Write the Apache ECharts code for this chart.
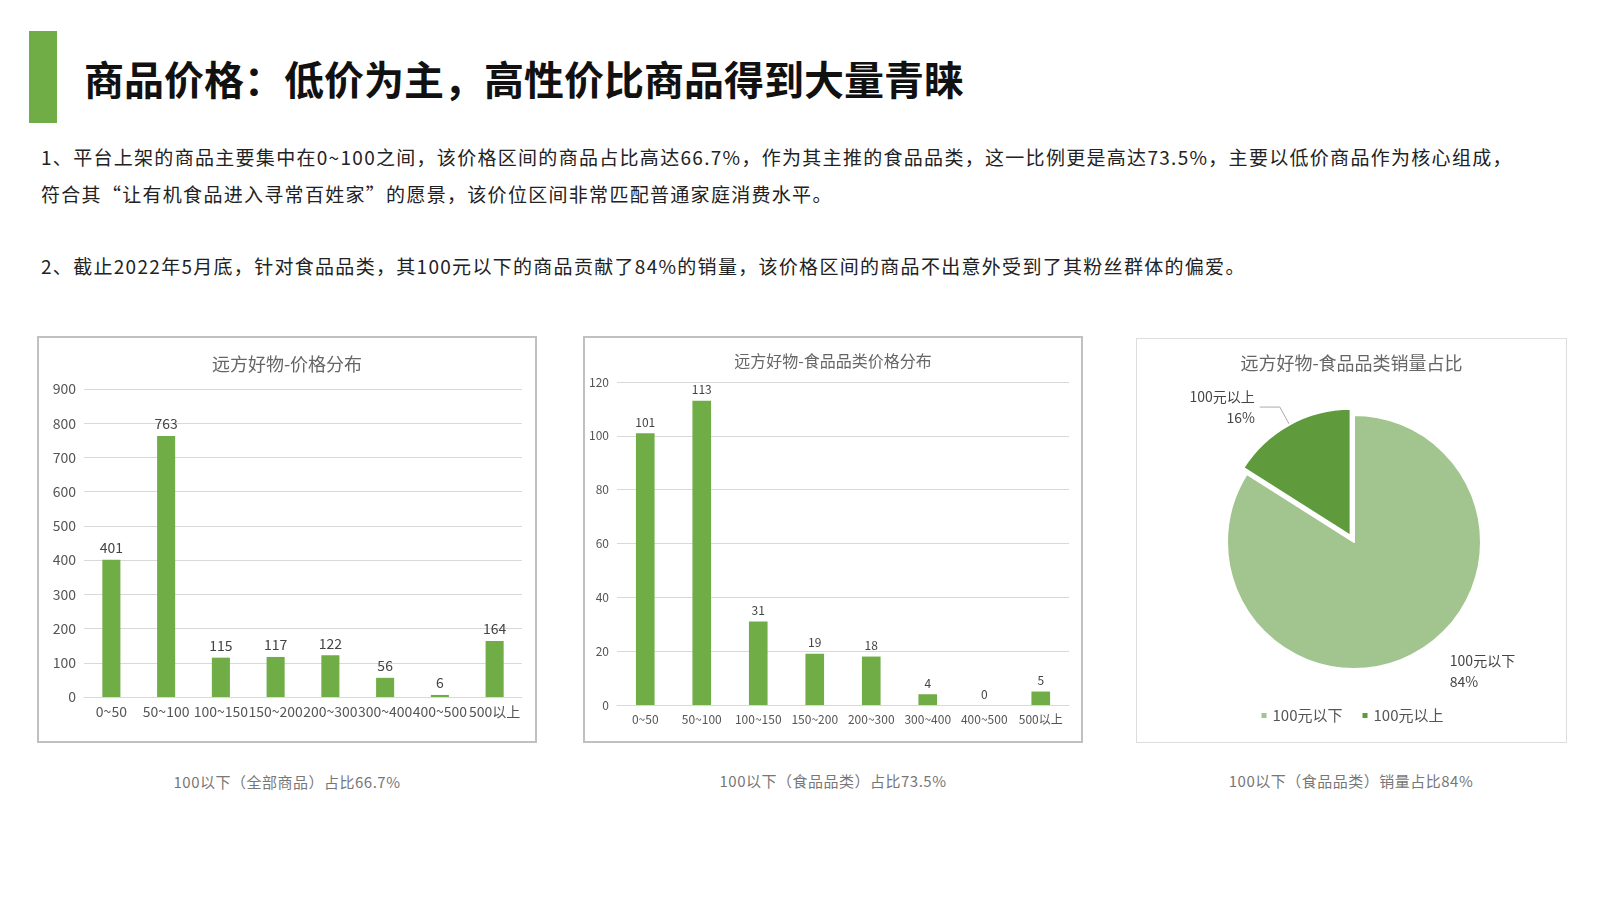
<!DOCTYPE html>
<html>
<head>
<meta charset="utf-8">
<title>商品价格</title>
<script src="https://cdn.jsdelivr.net/npm/echarts@6/dist/echarts.min.js"></script>
<style>
  body { margin:0; width:1600px; height:900px; background:#fff; font-family:"Noto Sans CJK SC","Noto Sans",sans-serif; position:relative; overflow:hidden; }
  .bar { position:absolute; left:29px; top:31px; width:28px; height:92px; background:#70ad47; }
  .title { position:absolute; left:84px; top:52px; font-size:40px; font-weight:bold; color:#111; line-height:52px; }
  .p { position:absolute; left:41px; font-size:19px; letter-spacing:1.3px; color:#222; white-space:nowrap; }
  .box { position:absolute; border:2px solid #c0c0c0; box-sizing:border-box; }
  .cap { position:absolute; font-size:15px; letter-spacing:0.5px; color:#777; text-align:center; width:500px; }
</style>
</head>
<body>
<div class="bar"></div>
<div class="title">商品价格：低价为主，高性价比商品得到大量青睐</div>
<div class="p" style="top:143px">1、平台上架的商品主要集中在0~100之间，该价格区间的商品占比高达66.7%，作为其主推的食品品类，这一比例更是高达73.5%，主要以低价商品作为核心组成，</div>
<div class="p" style="top:180px">符合其“让有机食品进入寻常百姓家”的愿景，该价位区间非常匹配普通家庭消费水平。</div>
<div class="p" style="top:252px">2、截止2022年5月底，针对食品品类，其100元以下的商品贡献了84%的销量，该价格区间的商品不出意外受到了其粉丝群体的偏爱。</div>

<div id="c1" class="box" style="left:37px;top:336px;width:500px;height:407px"></div>
<div id="c2" class="box" style="left:583px;top:336px;width:500px;height:407px"></div>
<div id="c3" class="box" style="left:1136px;top:338px;width:431px;height:405px;border:1px solid #ddd"></div>

<div class="cap" style="left:37px;top:771px">100以下（全部商品）占比66.7%</div>
<div class="cap" style="left:583px;top:770px">100以下（食品品类）占比73.5%</div>
<div class="cap" style="left:1101px;top:770px">100以下（食品品类）销量占比84%</div>

<script>
var allCats = ['0~50','50~100','100~150','150~200','200~300','300~400','400~500','500以上'];
var allVals = [401, 763, 115, 117, 122, 56, 6, 164];
var foodCats = ['0~50','50~100','100~150','150~200','200~300','300~400','400~500','500以上'];
var foodVals = [101, 113, 31, 19, 18, 4, 0, 5];
var pieNames = ['100元以下','100元以上'];
var pieVals = [84, 16];

var green = '#70ad47';
var font = '"Noto Sans CJK SC", sans-serif';

function barOpt(title, cats, vals, max, interval, grid, fs, titleTop) {
  return {
    animation:false,
    title:{ text:title, left:'center', top:titleTop, textStyle:{ color:'#666', fontSize:fs+4, fontWeight:'normal', fontFamily:font } },
    grid:grid,
    xAxis:{ type:'category', data:cats, axisTick:{show:false}, axisLine:{lineStyle:{color:'#d9d9d9'}},
      axisLabel:{ color:'#555', fontSize:fs, interval:0, fontFamily:font } },
    yAxis:{ type:'value', min:0, max:max, interval:interval, axisLine:{show:false},
      axisLabel:{ color:'#555', fontSize:fs, fontFamily:font }, splitLine:{lineStyle:{color:'#d9d9d9'}} },
    series:[{ type:'bar', data:vals, barWidth:'33%', itemStyle:{color:green},
      label:{ show:true, position:'top', color:'#444', fontSize:fs, fontFamily:font } }]
  };
}

echarts.init(document.getElementById('c1')).setOption(
  barOpt('远方好物-价格分布', allCats, allVals, 900, 100,
    { left:45, right:13, top:51, bottom:44 }, 14, 12));
echarts.init(document.getElementById('c2')).setOption(
  barOpt('远方好物-食品品类价格分布', foodCats, foodVals, 120, 20,
    { left:32, right:12, top:44, bottom:36 }, 12, 10));

echarts.init(document.getElementById('c3')).setOption({
  animation:false,
  title:{ text:'远方好物-食品品类销量占比', left:'center', top:10, textStyle:{ color:'#666', fontSize:18, fontWeight:'normal', fontFamily:font } },
  color:['#a2c58f','#5f9a3c'],
  legend:{ bottom:14, left:'center', itemWidth:7, itemHeight:7, icon:'rect', itemGap:18, textStyle:{ color:'#555', fontSize:15, fontFamily:font } },
  series:[{
    type:'pie', radius:127, center:[217,203], startAngle:90, clockwise:true,
    selectedMode:'single', selectedOffset:7,
    itemStyle:{ borderColor:'#fff', borderWidth:2 },
    label:{ show:true, formatter:'{b}\n{d}%', color:'#444', fontSize:14, lineHeight:21, fontFamily:font, align:'center' },
    labelLine:{ show:true, length:20, length2:20, lineStyle:{color:'#aaa'} },
    data: pieNames.map(function(n,i){ return { name:n, value:pieVals[i], selected:i===1,
      labelLine:{ show:i===1 } }; })
  }]
});
</script>
</body>
</html>
